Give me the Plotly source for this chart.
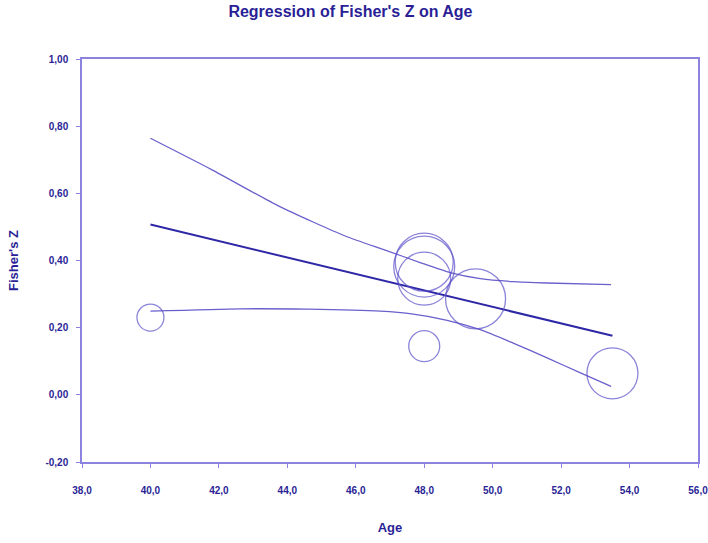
import plotly.graph_objects as go

# studies: age, Fisher's Z and weight (circle size)
age = [40.0, 48.0, 48.0, 48.0, 48.0, 49.5, 53.5]
fisher_z = [0.230, 0.145, 0.395, 0.382, 0.346, 0.286, 0.064]
weight = [27, 31, 58, 61, 53, 60, 51]

# fitted regression line
fit_age = [40.0, 53.5]
fit_z = [0.507, 0.176]

# confidence limits
ci_age = [40.0, 41.80, 43.75, 45.69, 46.86, 47.88, 48.76, 49.64, 50.60, 51.59, 53.46]
ci_upper = [0.764, 0.670, 0.562, 0.473, 0.431, 0.394, 0.364, 0.346, 0.337, 0.333, 0.328]
ci_low_age = [40.0, 42.63, 44.58, 46.72, 47.68, 48.67, 49.64, 50.60, 51.59, 52.55, 53.46]
ci_lower = [0.249, 0.256, 0.255, 0.249, 0.240, 0.222, 0.194, 0.154, 0.110, 0.066, 0.025]

y_ticks = [-0.2, 0.0, 0.2, 0.4, 0.6, 0.8, 1.0]
y_labels = ['-0,20', '0,00', '0,20', '0,40', '0,60', '0,80', '1,00']

txt = '#2a1f96'
axcol = '#8c82e0'
font = 'Liberation Sans, Arial, sans-serif'

fig = go.Figure()
fig.add_trace(go.Scatter(x=ci_age, y=ci_upper, mode='lines',
                         line={'color': '#6a60cc', 'width': 1.3, 'shape': 'spline', 'smoothing': 0.6}))
fig.add_trace(go.Scatter(x=ci_low_age, y=ci_lower, mode='lines',
                         line={'color': '#6a60cc', 'width': 1.3, 'shape': 'spline', 'smoothing': 0.6}))
fig.add_trace(go.Scatter(x=fit_age, y=fit_z, mode='lines',
                         line={'color': '#2f28a6', 'width': 2}))
fig.add_trace(go.Scatter(x=age, y=fisher_z, mode='markers',
                         marker={'symbol': 'circle-open', 'size': weight, 'sizemode': 'diameter',
                                 'color': '#5a50c8', 'line': {'width': 1.3, 'color': '#5a50c8'}}))

fig.update_layout(
    width=708, height=543,
    showlegend=False, hovermode=False,
    paper_bgcolor='white', plot_bgcolor='white',
    separators=',.',
    margin=dict(l=82, r=10, t=59, b=81),
    font={'family': font, 'color': txt},
    title={'text': "<b>Regression of Fisher's Z on Age</b>", 'x': 0.495, 'xanchor': 'center',
           'y': 0.99, 'yanchor': 'top', 'font': {'size': 16, 'color': txt}},
)
fig.update_xaxes(range=[38, 56], dtick=2, tickformat='.1f', showgrid=False, zeroline=False,
                 showline=True, linecolor=axcol, linewidth=1.5, mirror=True, automargin=False,
                 ticks='outside', ticklen=4, tickcolor=axcol, ticklabelstandoff=14,
                 ticklabeloverflow='allow',
                 tickfont={'size': 10, 'color': txt, 'weight': 'bold'},
                 title={'text': '<b>Age</b>', 'font': {'size': 13, 'color': txt}, 'standoff': 28})
fig.update_yaxes(range=[-0.2, 1.0], tickvals=y_ticks, ticktext=y_labels, showgrid=False, zeroline=False,
                 showline=True, linecolor=axcol, linewidth=1.5, mirror=True, automargin=False,
                 ticks='outside', ticklen=4, tickcolor=axcol, ticklabelstandoff=6,
                 ticklabeloverflow='allow',
                 tickfont={'size': 10, 'color': txt, 'weight': 'bold'},
                 title={'text': "<b>Fisher's Z</b>", 'font': {'size': 13, 'color': txt}, 'standoff': 24})

# page body has a default 8px margin; drop it (and any scrollbar) so the figure fills the window
fig.write_html("out.html", config={'displayModeBar': False},
               post_script="document.body.style.margin='0';document.body.style.overflow='hidden';"
                           "document.documentElement.style.overflow='hidden';")
